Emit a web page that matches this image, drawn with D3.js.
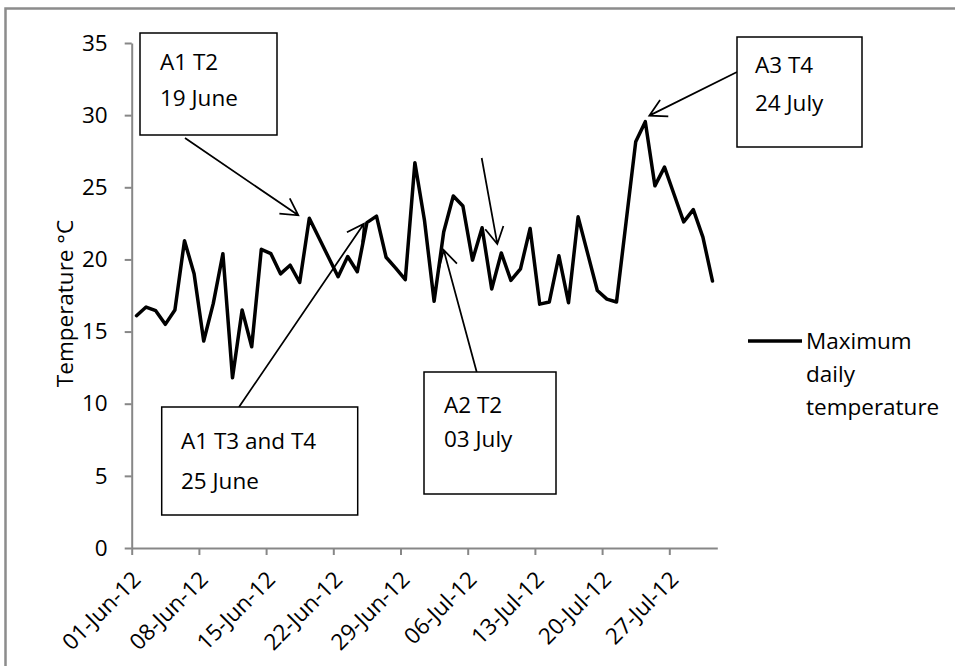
<!DOCTYPE html>
<html>
<head>
<meta charset="utf-8">
<script src="https://cdn.jsdelivr.net/npm/d3@7"></script>
<style>
  html, body { margin: 0; padding: 0; background: #fff; }
  svg { display: block; font-family: "Open Sans", Lato, sans-serif; }
</style>
</head>
<body>
<svg id="chart" width="955" height="666"></svg>
<script>
// Daily maximum temperature, 1 June – 31 July 2012 (°C)
const firstDay = "2012-06-01";
const maxTemp = [
  16.1, 16.7, 16.45, 15.5, 16.5, 21.3, 19.0, 14.35, 16.95, 20.4,
  11.8, 16.5, 13.95, 20.7, 20.4, 19.0, 19.6, 18.4, 22.85, 21.5,
  20.15, 18.8, 20.2, 19.15, 22.55, 23.0, 20.15, 19.4, 18.6, 26.7,
  22.7, 17.1, 21.9, 24.4, 23.7, 19.95, 22.2, 17.95, 20.45, 18.55,
  19.35, 22.15, 16.9, 17.05, 20.25, 17.0, 22.95, 20.4, 17.85, 17.25,
  17.05, 22.6, 28.15, 29.55, 25.1, 26.4, 24.5, 22.6, 23.45, 21.55,
  18.5
];
const yTickValues = [0, 5, 10, 15, 20, 25, 30, 35];
const xTickDays = ["2012-06-01", "2012-06-08", "2012-06-15", "2012-06-22", "2012-06-29",
                   "2012-07-06", "2012-07-13", "2012-07-20", "2012-07-27"];
const yTitle = "Temperature °C";
const legendLines = ["Maximum", "daily", "temperature"];

// Sampling events marked on the series
const noteText = [
  ["A1 T2", "19 June"],
  ["A1 T3 and T4", "25 June"],
  ["A2 T2", "03 July"],
  ["A3 T4", "24 July"]
];
const noteDays = ["2012-06-19", "2012-06-25", "2012-07-03", "2012-07-24"];
const extraArrowDay = "2012-07-09";

const parse = d3.timeParse("%Y-%m-%d");
const day0 = parse(firstDay);
const series = maxTemp.map((v, i) => ({ date: d3.timeDay.offset(day0, i), value: v }));

const svg = d3.select("#chart");
const W = 955, H = 666;
const FONT = '"Open Sans", Lato, sans-serif';

// outer frame (left and top edges visible)
svg.append("path")
  .attr("d", `M5.5,${H} V8.5 H${W}`)
  .attr("fill", "none").attr("stroke", "#8c8c8c").attr("stroke-width", 2.5);

const plotLeft = 131.7, plotTop = 43, plotBottom = 548;
const dayW = 9.6;
const lastDay = d3.timeDay.offset(day0, maxTemp.length);

const x = d3.scaleTime().domain([day0, lastDay]).range([plotLeft, plotLeft + dayW * maxTemp.length]);
const y = d3.scaleLinear().domain([0, 35]).range([plotBottom, plotTop]);
const cx = d => x(d3.timeHour.offset(d, 12)); // centre of the day slot

const axisColor = "#878787";
const fontSize = 22.5;

// y axis
const gy = svg.append("g")
  .attr("transform", `translate(${plotLeft},0)`)
  .call(d3.axisLeft(y).tickValues(yTickValues).tickSize(7).tickSizeOuter(0).tickPadding(17));
gy.select(".domain").attr("stroke", axisColor).attr("stroke-width", 2);
gy.selectAll(".tick line").attr("stroke", axisColor).attr("stroke-width", 2);
gy.selectAll(".tick text")
  .attr("font-family", FONT)
  .attr("font-size", fontSize).attr("fill", "#000");

// x axis
const fmt = d3.timeFormat("%d-%b-%y");
const gx = svg.append("g")
  .attr("transform", `translate(0,${plotBottom})`)
  .call(d3.axisBottom(x).tickValues(xTickDays.map(parse)).tickFormat(fmt)
    .tickSize(7).tickSizeOuter(0));
gx.select(".domain").attr("stroke", axisColor).attr("stroke-width", 2);
gx.selectAll(".tick line").attr("stroke", axisColor).attr("stroke-width", 2);
gx.selectAll(".tick text")
  .attr("font-family", FONT)
  .attr("font-size", fontSize).attr("fill", "#000")
  .attr("x", 0).attr("y", 0).attr("dy", 0)
  .attr("text-anchor", "end")
  .attr("transform", "translate(10,33) rotate(-45)");

// y axis title
svg.append("text")
  .attr("transform", `translate(73,${(plotTop + plotBottom) / 2 + 8}) rotate(-90)`)
  .attr("text-anchor", "middle")
  .attr("font-size", fontSize)
  .text(yTitle);

// the temperature line
const line = d3.line().x(d => cx(d.date)).y(d => y(d.value));
svg.append("path")
  .datum(series)
  .attr("d", line)
  .attr("fill", "none")
  .attr("stroke", "#000")
  .attr("stroke-width", 3.5)
  .attr("stroke-linejoin", "round")
  .attr("stroke-linecap", "round");

// legend
svg.append("line")
  .attr("x1", 748).attr("x2", 802).attr("y1", 341).attr("y2", 341)
  .attr("stroke", "#000").attr("stroke-width", 3.5);
svg.append("text")
  .attr("font-size", fontSize)
  .selectAll("tspan").data(legendLines).join("tspan")
  .attr("x", 806).attr("y", (d, i) => 349 + i * 33)
  .text(d => d);

// arrows: open head made of two barbs
function arrow(x1, y1, x2, y2) {
  const a = Math.atan2(y1 - y2, x1 - x2);
  const L = 19, h = 29 * Math.PI / 180;
  const b1 = [x2 + L * Math.cos(a + h), y2 + L * Math.sin(a + h)];
  const b2 = [x2 + L * Math.cos(a - h), y2 + L * Math.sin(a - h)];
  svg.append("path")
    .attr("d", `M${x1},${y1} L${x2},${y2} M${b1[0]},${b1[1]} L${x2},${y2} L${b2[0]},${b2[1]}`)
    .attr("fill", "none").attr("stroke", "#000").attr("stroke-width", 1.75)
    .attr("stroke-linejoin", "miter");
}
const valueOn = s => series.find(d => +d.date === +parse(s));

// note boxes
const boxes = [
  { x: 140, y: 33, w: 137, h: 102, tx: 160, ty: [70, 106] },
  { x: 161.7, y: 407, w: 196, h: 108, tx: 181, ty: [449, 489] },
  { x: 424, y: 372, w: 132, h: 122, tx: 444, ty: [413, 447] },
  { x: 737, y: 37, w: 125, h: 110, tx: 755, ty: [73, 111] }
];

// arrow from box 1 to 19 June peak
let p = valueOn(noteDays[0]);
arrow(185, 138, cx(p.date) - 11, y(p.value) - 3);
// arrow from box 2 to 25 June
p = valueOn(noteDays[1]);
arrow(239, 407, cx(p.date) - 3, y(p.value) + 1);
// arrow from box 3 to 3 July
p = valueOn(noteDays[2]);
arrow(476.7, 372, cx(p.date), y(p.value) + 18);
// arrow to 24 July peak
p = valueOn(noteDays[3]);
arrow(737, 72, cx(p.date) + 4, y(p.value) - 6);
// unlabelled arrow pointing down near 9 July
p = valueOn(extraArrowDay);
arrow(481.7, 158, cx(p.date) - 4, y(p.value) - 9);

boxes.forEach((b, i) => {
  svg.append("rect")
    .attr("x", b.x).attr("y", b.y).attr("width", b.w).attr("height", b.h)
    .attr("fill", "#fff").attr("stroke", "#000").attr("stroke-width", 1.5);
  svg.append("text")
    .attr("font-size", fontSize)
    .selectAll("tspan").data(noteText[i]).join("tspan")
    .attr("x", b.tx).attr("y", (d, j) => b.ty[j])
    .text(d => d);
});
</script>
</body>
</html>
